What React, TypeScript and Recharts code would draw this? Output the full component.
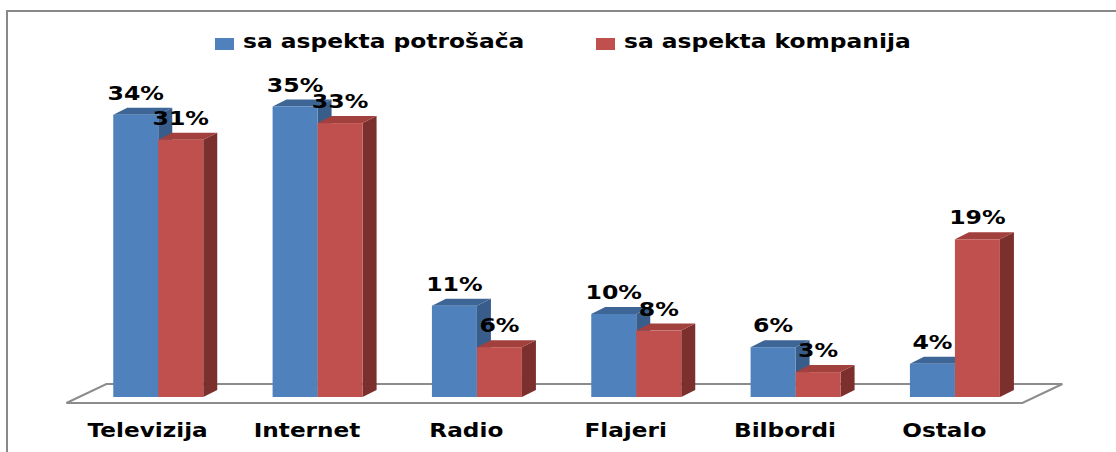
import { Bar, BarChart, LabelList, Legend, XAxis, YAxis, usePlotArea } from "recharts";

const categories = ["Televizija", "Internet", "Radio", "Flajeri", "Bilbordi", "Ostalo"];
const consumerShare = [34, 35, 11, 10, 6, 4];
const companyShare = [31, 33, 6, 8, 3, 19];
const seriesNames = ["sa aspekta potrošača", "sa aspekta kompanija"];

const data = categories.map((name, i) => ({
  name,
  consumer: consumerShare[i],
  company: companyShare[i],
}));

const FONT = "'DejaVu Sans', Verdana, sans-serif";
const DEPTH_X = 14;
const DEPTH_Y = 7;

const blue = { front: "#4F81BD", top: "#3D6596", side: "#385D8A" };
const red = { front: "#C0504D", top: "#A1403D", side: "#7B302E" };

// draws a bar as a front face plus top and side faces for the 3D look
const make3DBar = (colors: { front: string; top: string; side: string }) => (props: any) => {
  const { x, y, width, height } = props;
  if (!height || height <= 0) return <g />;
  const top = `${x},${y} ${x + DEPTH_X},${y - DEPTH_Y} ${x + width + DEPTH_X},${y - DEPTH_Y} ${x + width},${y}`;
  const side = `${x + width},${y} ${x + width + DEPTH_X},${y - DEPTH_Y} ${x + width + DEPTH_X},${y + height - DEPTH_Y} ${x + width},${y + height}`;
  return (
    <g>
      <polygon points={side} fill={colors.side} />
      <polygon points={top} fill={colors.top} />
      <rect x={x} y={y} width={width} height={height} fill={colors.front} />
    </g>
  );
};

// floor plane under the bars
const Floor = () => {
  const area = usePlotArea();
  if (!area) return null;
  const bottom = area.y + area.height;
  const l = area.x;
  const r = area.x + area.width;
  const pts = [
    [l - 12.6, bottom + 6],
    [r - 12.6, bottom + 6],
    [r + 27.4, bottom - 13],
    [l + 27.4, bottom - 13],
  ]
    .map((p) => p.join(","))
    .join(" ");
  return <polygon points={pts} fill="#ffffff" stroke="#8c8c8c" strokeWidth={2} />;
};

const ValueLabel = (props: any) => {
  const { x, y, width, value } = props;
  return (
    <text
      transform={`translate(${x + width / 2},${y - 15}) scale(1.18,1)`}
      textAnchor="middle"
      fontFamily={FONT}
      fontWeight="bold"
      fontSize={20}
      fill="#000"
    >
      {`${value}%`}
    </text>
  );
};

const CategoryTick = (props: any) => {
  const { x, y, payload } = props;
  return (
    <text
      transform={`translate(${x - 11},${y + 40}) scale(1.22,1)`}
      textAnchor="middle"
      fontFamily={FONT}
      fontWeight="bold"
      fontSize={19}
      fill="#000"
    >
      {payload.value}
    </text>
  );
};

const legendX = [215, 596];
const legendColors = [blue.front, red.front];

const LegendContent = () => (
  <svg width={1116} height={30} style={{ display: "block" }}>
    {seriesNames.map((name, i) => (
      <g key={name} transform={`translate(${legendX[i]},0)`}>
        <rect x={0} y={8} width={19} height={12} fill={legendColors[i]} />
        <text
          transform="translate(28,18) scale(1.23,1)"
          fontFamily={FONT}
          fontWeight="bold"
          fontSize={19}
          fill="#000"
        >
          {name}
        </text>
      </g>
    ))}
  </svg>
);

export default function App() {
  return (
    <div
      style={{
        position: "absolute",
        left: 0,
        top: 0,
        width: 1116,
        height: 452,
        overflow: "hidden",
        background: "#fff",
      }}
    >
      <div
        style={{
          position: "absolute",
          left: 6,
          top: 10,
          width: 1200,
          height: 600,
          borderTop: "2px solid #888",
          borderLeft: "2px solid #888",
        }}
      />
      <BarChart
        width={1116}
        height={452}
        data={data}
        margin={{ top: 65, right: 81, bottom: 0, left: 79 }}
        barCategoryGap="21.5%"
        barGap={0}
        style={{ position: "absolute", left: 0, top: 0 }}
      >
        <Floor />
        <XAxis
          dataKey="name"
          height={55}
          axisLine={false}
          tickLine={false}
          tickSize={0}
          tickMargin={0}
          interval={0}
          tick={<CategoryTick />}
        />
        <YAxis hide domain={[0, 40]} />
        <Legend
          layout="horizontal"
          verticalAlign="middle"
          align="center"
          wrapperStyle={{ top: 30, left: 0, width: 1116, height: 30 }}
          content={<LegendContent />}
        />
        <Bar dataKey="consumer" name={seriesNames[0]} fill={blue.front} shape={make3DBar(blue)} isAnimationActive={false}>
          <LabelList dataKey="consumer" content={<ValueLabel />} />
        </Bar>
        <Bar dataKey="company" name={seriesNames[1]} fill={red.front} shape={make3DBar(red)} isAnimationActive={false}>
          <LabelList dataKey="company" content={<ValueLabel />} />
        </Bar>
      </BarChart>
    </div>
  );
}
